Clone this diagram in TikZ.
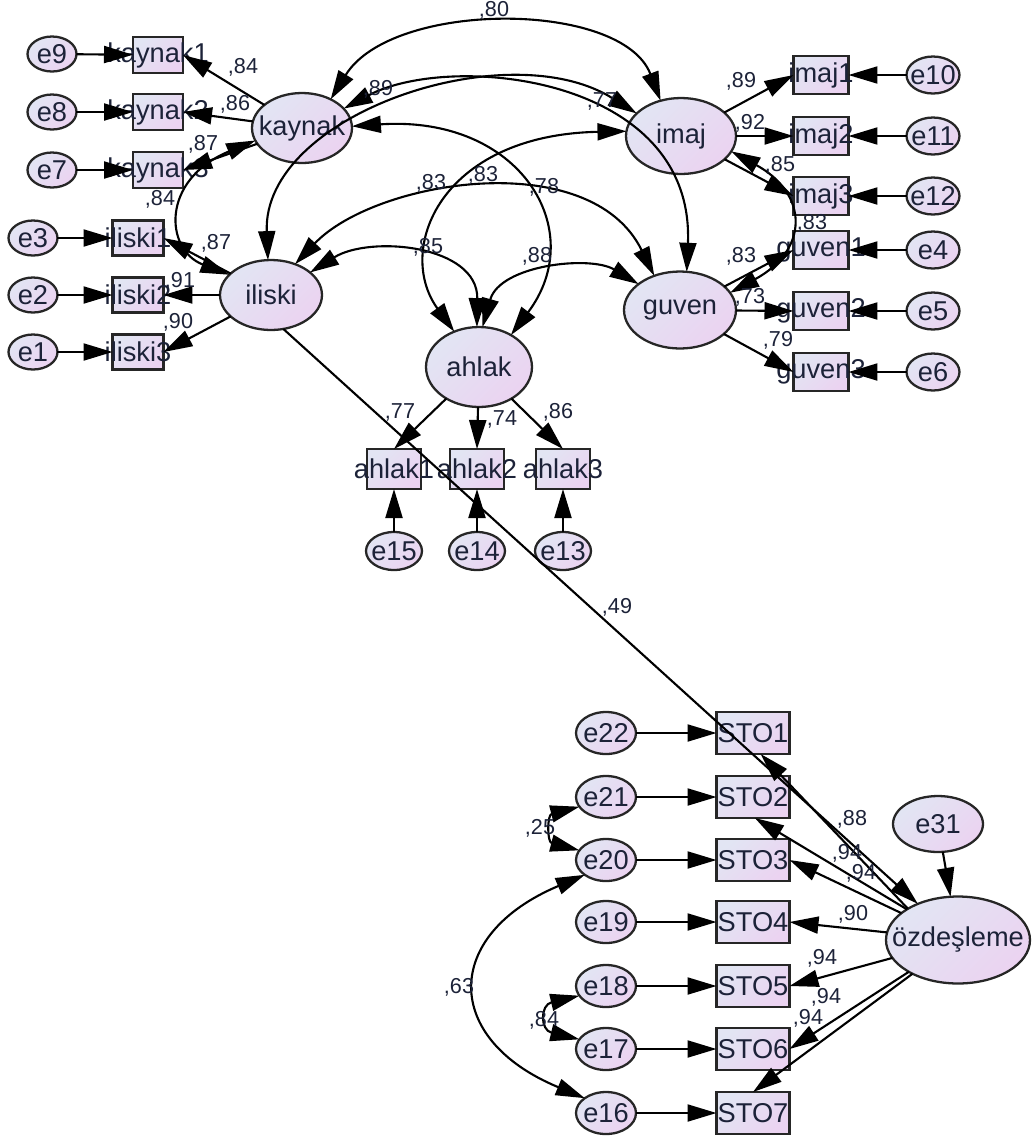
\documentclass[tikz,border=0pt]{standalone}
\usepackage{fontspec}
\setmainfont{Liberation Sans}
\usetikzlibrary{shapes.geometric,arrows.meta}

\definecolor{fillA}{HTML}{E2E5F3}
\definecolor{fillB}{HTML}{EBD3F1}
\definecolor{ink}{HTML}{1C2238}

\begin{document}
\begin{tikzpicture}
[x=0.02cm,y=-0.02cm,
 every node/.style={font=\fontsize{15.5}{18}\selectfont,text=ink,inner sep=0pt,outer sep=0pt},
 ovf/.style={execute at begin node=\hbox to 0pt\bgroup\hss,execute at end node=\hss\egroup},
 lat/.style={ellipse,draw=black!85,line width=1.3pt,top color=fillA,bottom color=fillB,shading angle=45,ovf},
 obs/.style={rectangle,draw=black!85,line width=1.3pt,top color=fillA,bottom color=fillB,shading angle=45,ovf},
 coef/.style={font=\fontsize{12.3}{14}\selectfont},
 loading/.style={line width=1.2pt,-{Triangle[length=5.8mm,width=3.4mm]}},
 corr/.style={line width=1.2pt,{Triangle[length=5.8mm,width=3.4mm]}-{Triangle[length=5.8mm,width=3.4mm]}}]
\useasboundingbox (0,0) rectangle (1033,1137);

% latent factors
\node[lat,minimum width=2cm,minimum height=1.4cm]     (kaynak) at (302,128) {kaynak};
\node[lat,minimum width=2.04cm,minimum height=1.4cm]  (iliski) at (271,295) {iliski};
\node[lat,minimum width=2.2cm,minimum height=1.52cm]  (imaj)   at (681,136) {imaj};
\node[lat,minimum width=2.24cm,minimum height=1.54cm] (guven)  at (680,310) {guven};
\node[lat,minimum width=2.12cm,minimum height=1.6cm]  (ahlak)  at (479,367) {ahlak};
\node[lat,minimum width=2.88cm,minimum height=1.74cm] (ozd)    at (958,940) {özdeşleme};
\node[lat,minimum width=1.8cm,minimum height=1.12cm]  (e31)    at (938,824) {e31};

% indicators
\node[obs,minimum width=1cm,minimum height=0.72cm] (kaynak1) at (158,55)  {kaynak1};
\node[obs,minimum width=1cm,minimum height=0.72cm] (kaynak2) at (158,112) {kaynak2};
\node[obs,minimum width=1cm,minimum height=0.72cm] (kaynak3) at (158,170) {kaynak3};
\node[obs,minimum width=1.02cm,minimum height=0.7cm] (iliski1) at (138,238) {iliski1};
\node[obs,minimum width=1.02cm,minimum height=0.7cm] (iliski2) at (138,295) {iliski2};
\node[obs,minimum width=1.02cm,minimum height=0.7cm] (iliski3) at (138,352) {iliski3};
\node[obs,minimum width=1.1cm,minimum height=0.76cm] (imaj1)  at (821,75)  {imaj1};
\node[obs,minimum width=1.1cm,minimum height=0.76cm] (imaj2)  at (821,136) {imaj2};
\node[obs,minimum width=1.1cm,minimum height=0.76cm] (imaj3)  at (821,196) {imaj3};
\node[obs,minimum width=1.1cm,minimum height=0.76cm] (guven1) at (821,250) {guven1};
\node[obs,minimum width=1.1cm,minimum height=0.76cm] (guven2) at (821,311) {guven2};
\node[obs,minimum width=1.1cm,minimum height=0.76cm] (guven3) at (821,372) {guven3};
\node[obs,minimum width=1.08cm,minimum height=0.8cm] (ahlak1) at (394,469) {ahlak1};
\node[obs,minimum width=1.08cm,minimum height=0.8cm] (ahlak2) at (477,469) {ahlak2};
\node[obs,minimum width=1.08cm,minimum height=0.8cm] (ahlak3) at (563,469) {ahlak3};
\node[obs,minimum width=1.46cm,minimum height=0.84cm] (STO1) at (753,733)  {STO1};
\node[obs,minimum width=1.46cm,minimum height=0.84cm] (STO2) at (753,797)  {STO2};
\node[obs,minimum width=1.46cm,minimum height=0.84cm] (STO3) at (753,860)  {STO3};
\node[obs,minimum width=1.46cm,minimum height=0.84cm] (STO4) at (753,922)  {STO4};
\node[obs,minimum width=1.46cm,minimum height=0.84cm] (STO5) at (753,986)  {STO5};
\node[obs,minimum width=1.46cm,minimum height=0.84cm] (STO6) at (753,1049) {STO6};
\node[obs,minimum width=1.46cm,minimum height=0.84cm] (STO7) at (753,1113) {STO7};

% error terms
\node[lat,minimum width=0.98cm,minimum height=0.7cm] (e9) at (52,54)  {e9};
\node[lat,minimum width=0.98cm,minimum height=0.7cm] (e8) at (52,112) {e8};
\node[lat,minimum width=0.98cm,minimum height=0.7cm] (e7) at (52,170) {e7};
\node[lat,minimum width=0.98cm,minimum height=0.7cm] (e3) at (33,238) {e3};
\node[lat,minimum width=0.98cm,minimum height=0.7cm] (e2) at (33,295) {e2};
\node[lat,minimum width=0.98cm,minimum height=0.7cm] (e1) at (33,352) {e1};
\node[lat,minimum width=1.06cm,minimum height=0.74cm] (e10) at (933,75)  {e10};
\node[lat,minimum width=1.06cm,minimum height=0.74cm] (e11) at (933,136) {e11};
\node[lat,minimum width=1.06cm,minimum height=0.74cm] (e12) at (933,196) {e12};
\node[lat,minimum width=1.06cm,minimum height=0.74cm] (e4)  at (933,250) {e4};
\node[lat,minimum width=1.06cm,minimum height=0.74cm] (e5)  at (933,311) {e5};
\node[lat,minimum width=1.06cm,minimum height=0.74cm] (e6)  at (933,372) {e6};
\node[lat,minimum width=1.12cm,minimum height=0.76cm] (e15) at (394,551) {e15};
\node[lat,minimum width=1.12cm,minimum height=0.76cm] (e14) at (477,551) {e14};
\node[lat,minimum width=1.12cm,minimum height=0.76cm] (e13) at (563,551) {e13};
\node[lat,minimum width=1.2cm,minimum height=0.84cm] (e22) at (606,733)  {e22};
\node[lat,minimum width=1.2cm,minimum height=0.84cm] (e21) at (606,797)  {e21};
\node[lat,minimum width=1.2cm,minimum height=0.84cm] (e20) at (606,860)  {e20};
\node[lat,minimum width=1.2cm,minimum height=0.84cm] (e19) at (606,922)  {e19};
\node[lat,minimum width=1.2cm,minimum height=0.84cm] (e18) at (606,986)  {e18};
\node[lat,minimum width=1.2cm,minimum height=0.84cm] (e17) at (606,1049) {e17};
\node[lat,minimum width=1.2cm,minimum height=0.84cm] (e16) at (606,1113) {e16};

% error paths
\draw[loading] (e9) -- (kaynak1);
\draw[loading] (e8) -- (kaynak2);
\draw[loading] (e7) -- (kaynak3);
\draw[loading] (e3) -- (iliski1);
\draw[loading] (e2) -- (iliski2);
\draw[loading] (e1) -- (iliski3);
\draw[loading] (e10) -- (imaj1);
\draw[loading] (e11) -- (imaj2);
\draw[loading] (e12) -- (imaj3);
\draw[loading] (e4) -- (guven1);
\draw[loading] (e5) -- (guven2);
\draw[loading] (e6) -- (guven3);
\draw[loading] (e15) -- (ahlak1);
\draw[loading] (e14) -- (ahlak2);
\draw[loading] (e13) -- (ahlak3);
\draw[loading] (e22) -- (STO1);
\draw[loading] (e21) -- (STO2);
\draw[loading] (e20) -- (STO3);
\draw[loading] (e19) -- (STO4);
\draw[loading] (e18) -- (STO5);
\draw[loading] (e17) -- (STO6);
\draw[loading] (e16) -- (STO7);
\draw[loading] (e31) -- (ozd);

% factor loadings
\draw[loading] (kaynak) -- (kaynak1.east);
\draw[loading] (kaynak) -- (kaynak2.east);
\draw[loading] (kaynak) -- (kaynak3.east);
\draw[loading] (iliski) -- (iliski1.east);
\draw[loading] (iliski) -- (iliski2.east);
\draw[loading] (iliski) -- (iliski3.east);
\draw[loading] (imaj) -- (imaj1.west);
\draw[loading] (imaj) -- (imaj2.west);
\draw[loading] (imaj) -- (imaj3.west);
\draw[loading] (guven) -- (guven1.west);
\draw[loading] (guven) -- (guven2.west);
\draw[loading] (guven) -- (guven3.west);
\draw[loading] (ahlak) -- (ahlak1.north);
\draw[loading] (ahlak) -- (ahlak2.north);
\draw[loading] (ahlak) -- (ahlak3.north);
\draw[loading] (ozd.148) -- (STO1.-70);
\draw[loading] (ozd) -- (STO2.-85);
\draw[loading] (ozd) -- (STO3.east);
\draw[loading] (ozd) -- (STO4.east);
\draw[loading] (ozd) -- (STO5.east);
\draw[loading] (ozd) -- (STO6.east);
\draw[loading] (ozd) -- (STO7.north);

% structural path
\draw[loading] (iliski.-70) -- (ozd.138);

% factor covariances
\draw[corr] (kaynak.45) .. controls (392,0) and (622,0) .. (imaj.120);
\draw[corr] (kaynak.25) .. controls (450,52) and (695,75) .. (guven.80);
\draw[corr] (imaj.153) .. controls (507,32) and (262,115) .. (iliski.95);
\draw[corr] (kaynak.2) .. controls (520,115) and (590,230) .. (ahlak.45);
\draw[corr] (imaj.175) .. controls (440,135) and (395,250) .. (ahlak.125);
\draw[corr] (iliski.52) .. controls (375,180) and (590,145) .. (guven.127);
\draw[corr] (iliski.30) .. controls (370,235) and (478,245) .. (ahlak.93);
\draw[corr] (guven.148) .. controls (590,255) and (500,265) .. (ahlak.85);
\draw[corr] (imaj.-17) .. controls (809,194) and (809,250) .. (guven.19);
\draw[corr] (kaynak.195) .. controls (160,180) and (165,250) .. (iliski.154);

% error covariances
\draw[corr] (e21.200) .. controls (547,815) and (547,842) .. (e20.160);
\draw[corr] (e18.200) .. controls (540,1005) and (540,1030) .. (e17.160);
\draw[corr] (e20.215) .. controls (442,935) and (442,1039) .. (e16.145);

% estimates
\node[coef] (rKayIma) at (494,10)  {,80};
\node[coef] (rK1)     at (243,67)  {,84};
\node[coef] (rK2)     at (235,104) {,86};
\node[coef] (rK3)     at (203,144) {,87};
\node[coef] (rKayIli) at (160,199) {,84};
\node[coef] (rI1)     at (216,243) {,87};
\node[coef] (rI2)     at (180,281) {,91};
\node[coef] (rI3)     at (178,322) {,90};
\node[coef] (rKayGuv) at (378,89)  {,89};
\node[coef] (rImaIli) at (602,101) {,77};
\node[coef] (rIliGuv) at (431,183) {,83};
\node[coef] (rImaAhl) at (483,175) {,83};
\node[coef] (rKayAhl) at (544,187) {,78};
\node[coef] (rIliAhl) at (428,247) {,85};
\node[coef] (rGuvAhl) at (537,256) {,88};
\node[coef] (rM1)     at (741,81)  {,89};
\node[coef] (rM2)     at (750,123) {,92};
\node[coef] (rM3)     at (780,165) {,85};
\node[coef] (rImaGuv) at (812,223) {,83};
\node[coef] (rG1)     at (741,256) {,83};
\node[coef] (rG2)     at (750,297) {,73};
\node[coef] (rG3)     at (778,340) {,79};
\node[coef] (rA1)     at (400,412) {,77};
\node[coef] (rA2)     at (502,419) {,74};
\node[coef] (rA3)     at (558,412) {,86};
\node[coef] (rIliOzd) at (617,607) {,49};
\node[coef] (rS1)     at (852,819) {,88};
\node[coef] (rS2)     at (847,853) {,94};
\node[coef] (rS3)     at (861,873) {,94};
\node[coef] (rS4)     at (853,914) {,90};
\node[coef] (rS5)     at (822,958) {,94};
\node[coef] (rS6)     at (826,997) {,94};
\node[coef] (rS7)     at (808,1018) {,94};
\node[coef] (r2120)   at (540,828) {,25};
\node[coef] (r2016)   at (459,987) {,63};
\node[coef] (r1817)   at (544,1020) {,84};
\end{tikzpicture}
\end{document}
